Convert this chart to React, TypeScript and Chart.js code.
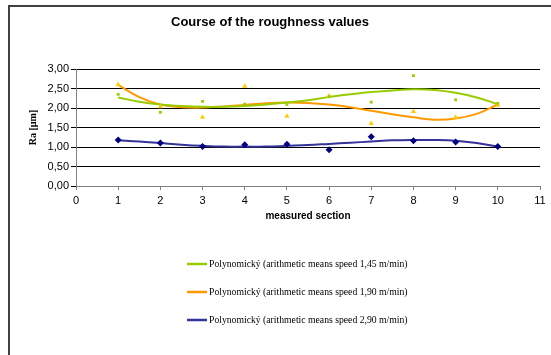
import { useEffect, useRef } from "react";
import { Chart, registerables } from "chart.js";
Chart.register(...registerables);

const sections = [1, 2, 3, 4, 5, 6, 7, 8, 9, 10];
const ra145 = [2.35, 1.89, 2.17, 2.1, 2.09, 2.29, 2.15, 2.83, 2.21, 2.12];
const ra190 = [2.6, 2.03, 1.76, 2.56, 1.79, 2.31, 1.6, 1.91, 1.76, 2.07];
const ra290 = [1.18, 1.1, 1.01, 1.06, 1.07, 0.93, 1.26, 1.16, 1.13, 1.01];

const trendX = [1, 1.5, 2, 2.5, 3, 3.5, 4, 4.5, 5, 5.5, 6, 6.5, 7, 7.5, 8, 8.5, 9, 9.5, 10];
const trend145 = [2.27, 2.16, 2.09, 2.05, 2.03, 2.03, 2.05, 2.09, 2.14, 2.2, 2.28, 2.35, 2.41, 2.45, 2.48, 2.46, 2.39, 2.27, 2.1];
const trend190 = [2.59, 2.28, 2.09, 2.02, 2.01, 2.04, 2.08, 2.12, 2.14, 2.13, 2.09, 2.02, 1.93, 1.84, 1.76, 1.7, 1.73, 1.85, 2.09];
const trend290 = [1.17, 1.14, 1.1, 1.06, 1.03, 1.01, 1.01, 1.01, 1.03, 1.05, 1.08, 1.11, 1.14, 1.17, 1.18, 1.18, 1.16, 1.1, 1.01];

const legendLabels = [
  "Polynomický (arithmetic means speed 1,45 m/min)",
  "Polynomický (arithmetic means speed 1,90 m/min)",
  "Polynomický (arithmetic means speed 2,90 m/min)",
];
const chartTitle = "Course of the roughness values";
const xTitle = "measured section";
const yTitle = "Ra [µm]";

const GREEN = "#99CC00";
const ORANGE = "#FF9900";
const NAVY = "#333399";

export default function App() {
  const ref = useRef<HTMLCanvasElement | null>(null);
  useEffect(() => {
    if (!ref.current) return;
    const pts = (xs: number[], ys: number[]) => xs.map((x, i) => ({ x, y: ys[i] }));
    const overlay = {
      id: "overlay",
      afterDraw(chart: any) {
        const ctx = chart.ctx;
        ctx.save();
        ctx.fillStyle = "#000";
        ctx.font = 'bold 13px "Liberation Sans", Arial, sans-serif';
        ctx.textAlign = "center";
        ctx.textBaseline = "middle";
        ctx.fillText(chartTitle, 270, 22);
        const colors = [GREEN, ORANGE, NAVY];
        ctx.font = '9.7px "Liberation Serif", "Times New Roman", serif';
        ctx.textAlign = "left";
        legendLabels.forEach((lab, i) => {
          const y = 264 + 28 * i;
          ctx.strokeStyle = colors[i];
          ctx.lineWidth = 2.5;
          ctx.beginPath();
          ctx.moveTo(187, y);
          ctx.lineTo(207, y);
          ctx.stroke();
          ctx.fillStyle = "#000";
          ctx.fillText(lab, 209, y + 0.5);
        });
        ctx.restore();
      },
    };
    const chart = new Chart(ref.current, {
      type: "line",
      data: {
        datasets: [
          {
            type: "line",
            label: legendLabels[0],
            data: pts(trendX, trend145),
            borderColor: GREEN,
            borderWidth: 2,
            pointRadius: 0,
            tension: 0.4,
            fill: false,
            order: 2,
          },
          {
            type: "line",
            label: legendLabels[1],
            data: pts(trendX, trend190),
            borderColor: ORANGE,
            borderWidth: 2,
            pointRadius: 0,
            tension: 0.4,
            fill: false,
            order: 2,
          },
          {
            type: "line",
            label: legendLabels[2],
            data: pts(trendX, trend290),
            borderColor: NAVY,
            borderWidth: 2,
            pointRadius: 0,
            tension: 0.4,
            fill: false,
            order: 2,
          },
          {
            type: "scatter",
            label: "1,45",
            data: pts(sections, ra145),
            pointStyle: "rect",
            pointRadius: 2,
            backgroundColor: GREEN,
            borderColor: GREEN,
            borderWidth: 0,
            showLine: false,
            order: 1,
          },
          {
            type: "scatter",
            label: "1,90",
            data: pts(sections, ra190),
            pointStyle: "triangle",
            pointRadius: 3,
            backgroundColor: "#FFCC00",
            borderColor: "#FFCC00",
            borderWidth: 0,
            showLine: false,
            order: 1,
          },
          {
            type: "scatter",
            label: "2,90",
            data: pts(sections, ra290),
            pointStyle: "rectRot",
            pointRadius: 3.5,
            backgroundColor: "#000080",
            borderColor: "#000080",
            borderWidth: 0,
            showLine: false,
            order: 1,
          },
        ] as any,
      },
      options: {
        animation: false,
        responsive: true,
        maintainAspectRatio: false,
        layout: { padding: { top: 69, right: 11, bottom: 133, left: 0 } },
        plugins: {
          legend: { display: false },
          title: { display: false },
          tooltip: { enabled: false },
        },
        scales: {
          x: {
            type: "linear",
            min: 0,
            max: 11,
            ticks: {
              stepSize: 1,
              color: "#000",
              padding: 4,
              font: { family: '"Liberation Sans", Arial, sans-serif', size: 11 },
            },
            grid: { drawOnChartArea: false, drawTicks: true, tickLength: 4, color: "#808080" },
            border: { color: "#808080" },
            title: {
              display: true,
              text: xTitle,
              color: "#000",
              padding: { top: 0, bottom: 0 },
              font: { family: '"Liberation Sans", Arial, sans-serif', size: 10, weight: "bold" },
            },
            afterFit: (s: any) => {
              s.height = 36;
            },
          },
          y: {
            type: "linear",
            min: 0,
            max: 3,
            ticks: {
              stepSize: 0.5,
              color: "#000",
              padding: 2,
              font: { family: '"Liberation Sans", Arial, sans-serif', size: 11 },
              callback: (v: any) => Number(v).toFixed(2).replace(".", ","),
            },
            grid: { color: "#000", tickLength: 5, drawTicks: true },
            border: { color: "#808080" },
            title: {
              display: true,
              text: yTitle,
              color: "#000",
              padding: { top: 27, bottom: 0 },
              font: { family: '"Liberation Serif", "Times New Roman", serif', size: 10, weight: "bold" },
            },
            afterFit: (s: any) => {
              s.width = 76;
            },
          },
        },
      } as any,
      plugins: [overlay],
    });
    return () => chart.destroy();
  }, []);
  return (
    <div style={{ position: "fixed", left: 0, top: 0, width: 551, height: 355, overflow: "hidden", background: "#fff" }}>
      <div
        style={{
          position: "absolute",
          left: 8,
          top: 5,
          width: 600,
          height: 400,
          border: "2px solid #404040",
          boxSizing: "border-box",
        }}
      />
      <div style={{ position: "absolute", left: 0, top: 0, width: 551, height: 355 }}>
        <canvas ref={ref} />
      </div>
    </div>
  );
}
